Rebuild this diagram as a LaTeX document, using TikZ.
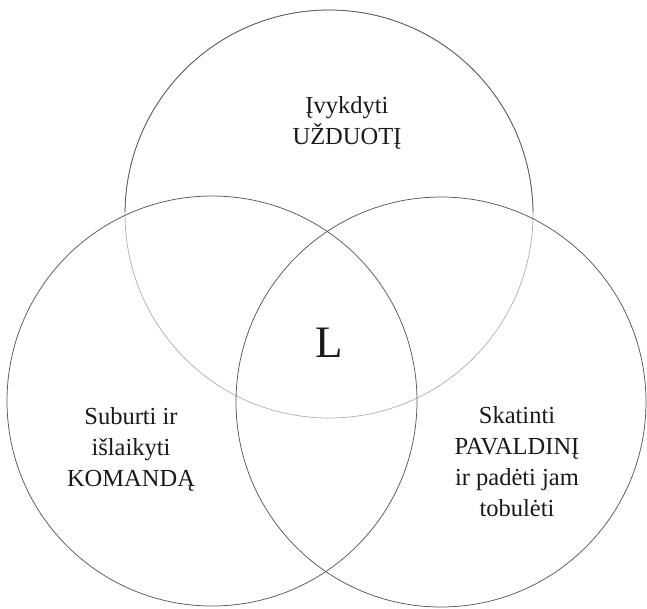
\documentclass[tikz,border=0pt]{standalone}
\usepackage{fontspec}
\setmainfont{Liberation Serif}
\begin{document}
\begin{tikzpicture}[x=1pt, y=-1pt,
    ring/.style={draw=black!65, line width=0.75pt},
    faint/.style={draw=black!30, line width=0.75pt},
    lbl/.style={align=center, font=\fontsize{24.5}{31}\selectfont, text=black!90}]
    \useasboundingbox (0,0) rectangle (647,608);

    % the three circles
    \draw[faint] (329,214) circle (204);
    \begin{scope}
        \clip (0,0) rectangle (647,211);
        \draw[ring] (329,214) circle (204);
    \end{scope}
    \draw[ring] (212,401) circle (205);
    \draw[ring] (441,402) circle (205);

    % texts
    \node[lbl] (task) at (347,123) {Įvykdyti\\UŽDUOTĮ};
    \node[lbl] (team) at (131,449) {Suburti ir\\išlaikyti\\KOMANDĄ};
    \node[lbl] (member) at (517,462) {Skatinti\\PAVALDINĮ\\ir padėti jam\\tobulėti};
    \node[font=\fontsize{45}{50}\selectfont, text=black!90] (lead) at (329,343) {L};
\end{tikzpicture}
\end{document}
